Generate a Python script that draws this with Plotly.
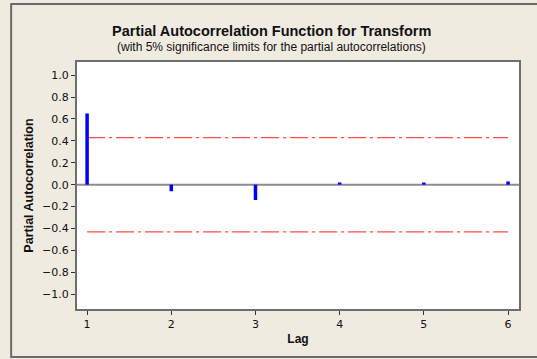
import plotly.graph_objects as go

lags = [1, 2, 3, 4, 5, 6]
pacf = [0.65, -0.06, -0.14, 0.02, 0.02, 0.03]
sig_limit = 0.43
y_ticks = [-1.0, -0.8, -0.6, -0.4, -0.2, 0.0, 0.2, 0.4, 0.6, 0.8, 1.0]

xs, ys = [], []
for l, v in zip(lags, pacf):
    xs += [l, l, None]
    ys += [0, v, None]

FONT = "Liberation Sans"
TICKFONT = dict(family="DejaVu Sans", size=11, color="#111")
fig = go.Figure()
fig.add_trace(go.Scatter(x=[0.88, 6.13], y=[0, 0], mode="lines",
                         line=dict(color="#8c8c8c", width=2), hoverinfo="skip"))
fig.add_trace(go.Scatter(x=[lags[0], lags[-1]], y=[sig_limit, sig_limit], mode="lines",
                         line=dict(color="#ff4a4a", width=1.3, dash="18px,4px,3px,4px")))
fig.add_trace(go.Scatter(x=[lags[0], lags[-1]], y=[-sig_limit, -sig_limit], mode="lines",
                         line=dict(color="#ff4a4a", width=1.3, dash="18px,4px,3px,4px")))
fig.add_trace(go.Scatter(x=xs, y=ys, mode="lines", line=dict(color="#0000ff", width=3.5)))

fig.update_layout(
    width=537, height=359,
    margin=dict(l=77, r=18, t=62, b=50),
    paper_bgcolor="#efebe1", plot_bgcolor="white",
    showlegend=False,
    font=dict(family=FONT, size=12, color="#111"),
    xaxis=dict(range=[0.88, 6.13], tickvals=lags, ticks="outside", ticklen=4,
               tickcolor="#333", tickfont=TICKFONT, showgrid=False, zeroline=False, showline=True,
               linecolor="#6e6e6e", linewidth=2, mirror=True,
               title=dict(text="<b>Lag</b>", standoff=4, font=dict(size=12))),
    yaxis=dict(range=[-1.135, 1.12], tickvals=y_ticks, tickformat=".1f", ticks="outside",
               ticklen=4, tickcolor="#333", tickfont=TICKFONT, showgrid=False, zeroline=False, showline=True,
               linecolor="#6e6e6e", linewidth=2, mirror=True,
               title=dict(text="<b>Partial Autocorrelation</b>", standoff=6, font=dict(size=12.5))),
    annotations=[
        dict(text="<b>Partial Autocorrelation Function for Transform</b>", xref="paper", yref="paper",
             x=0.44, y=1.1255, xanchor="center", yanchor="middle", showarrow=False,
             font=dict(size=14.5, family=FONT)),
        dict(text="(with 5% significance limits for the partial autocorrelations)", xref="paper", yref="paper",
             x=0.44, y=1.062, xanchor="center", yanchor="middle", showarrow=False,
             font=dict(size=12, family=FONT)),
    ],
    shapes=[dict(type="rect", xref="paper", yref="paper", x0=-0.149, x1=1.06, y0=-0.194, y1=1.235,
                 line=dict(color="#6a6a6a", width=2), layer="below")],
)
fig.write_html("out.html")
